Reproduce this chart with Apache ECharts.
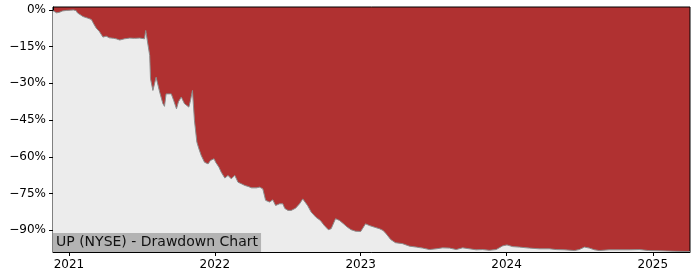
<!DOCTYPE html>
<html>
<head>
<meta charset="utf-8">
<script src="https://cdn.jsdelivr.net/npm/echarts@6/dist/echarts.min.js"></script>
<style>
html,body{margin:0;padding:0;background:#fff;}
#chart{width:700px;height:280px;}
</style>
</head>
<body>
<div id="chart"></div>
<script>
const chartTitle = 'UP (NYSE) - Drawdown Chart';
const dates = [
'2020-11-22','2020-12-01','2020-12-09','2020-12-16','2020-12-26','2021-01-05','2021-01-12','2021-01-19','2021-01-22','2021-01-27',
'2021-02-05','2021-02-16','2021-02-26','2021-03-04','2021-03-10','2021-03-18','2021-03-27','2021-04-04','2021-04-12','2021-04-23',
'2021-04-29','2021-05-08','2021-05-20','2021-06-02','2021-06-14','2021-06-27','2021-07-09','2021-07-12','2021-07-17','2021-07-22',
'2021-07-24','2021-07-30','2021-08-03','2021-08-07','2021-08-11','2021-08-16','2021-08-24','2021-08-28','2021-09-01','2021-09-14',
'2021-09-20','2021-09-27','2021-10-02','2021-10-09','2021-10-17','2021-10-28','2021-11-01','2021-11-06','2021-11-11','2021-11-17',
'2021-11-22','2021-11-28','2021-12-06','2021-12-15','2021-12-21','2021-12-30','2022-01-03','2022-01-11','2022-01-17','2022-01-26',
'2022-02-03','2022-02-11','2022-02-20','2022-02-28','2022-03-08','2022-03-17','2022-03-25','2022-04-03','2022-04-15','2022-04-23',
'2022-05-01','2022-05-08','2022-05-18','2022-05-26','2022-06-02','2022-06-12','2022-06-20','2022-06-25','2022-07-03','2022-07-11',
'2022-07-22','2022-08-01','2022-08-09','2022-08-13','2022-08-21','2022-08-30','2022-09-11','2022-09-22','2022-10-02','2022-10-12',
'2022-10-19','2022-10-30','2022-11-09','2022-11-19','2022-11-29','2022-12-08','2022-12-19','2023-01-01','2023-01-13','2023-01-23',
'2023-02-05','2023-02-17','2023-02-26','2023-03-06','2023-03-17','2023-03-29','2023-04-16','2023-05-03','2023-05-20','2023-06-05',
'2023-06-22','2023-07-09','2023-07-25','2023-08-11','2023-08-28','2023-09-13','2023-09-30','2023-10-17','2023-11-02','2023-11-19',
'2023-12-06','2023-12-22','2024-01-02','2024-01-16','2024-02-02','2024-02-27','2024-03-23','2024-04-17','2024-05-04','2024-05-25',
'2024-06-19','2024-07-01','2024-07-14','2024-07-26','2024-08-08','2024-08-20','2024-09-14','2024-10-09','2024-11-03','2024-11-28',
'2024-12-21','2025-01-18','2025-02-25','2025-04-04'
];
const drawdown = [
-0.3,-1.2,-0.9,-0.4,-0.2,-0.1,0,-0.3,-1.2,-2.0,
-2.7,-3.3,-3.9,-5.7,-7.4,-8.8,-11.1,-10.7,-11.4,-11.6,
-11.8,-12.3,-11.8,-11.5,-11.6,-11.5,-11.8,-8.4,-8.8,-18.6,
-28.1,-32.9,-33.5,-27.5,-27.2,-33.6,-38.3,-39.4,-34.3,-34.3,
-37.0,-40.4,-37.5,-35.6,-38.3,-39.7,-37.0,-32.9,-45.2,-54.0,
-56.7,-59.5,-62.2,-62.9,-61.5,-60.8,-62.2,-64.2,-66.3,-68.7,
-67.6,-69.0,-67.6,-70.4,-71.0,-71.7,-72.1,-72.7,-72.7,-72.4,
-73.1,-77.8,-78.5,-77.6,-79.9,-79.2,-79.2,-81.1,-81.9,-81.9,
-81.0,-79.2,-77.2,-77.2,-79.9,-82.6,-84.7,-86.0,-88.1,-89.8,
-89.4,-85.3,-86.0,-87.4,-88.8,-89.8,-90.4,-90.5,-87.4,-88.1,
-88.8,-89.4,-90.1,-91.5,-93.8,-95.1,-95.5,-96.5,-96.9,-97.3,
-97.9,-97.6,-97.2,-97.3,-97.9,-97.2,-97.6,-98.0,-97.9,-98.2,
-97.9,-96.4,-96.0,-96.7,-96.9,-97.3,-97.6,-97.6,-97.9,-98.0,
-98.3,-97.9,-96.9,-97.3,-98.0,-98.3,-98.0,-98.0,-98.0,-97.9,
-98.3,-98.4,-98.6,-98.7
];
const yTicks = [0,-15,-30,-45,-60,-75,-90];
const xTickLabels = ['2021','2022','2023','2024','2025'];

const toTs = d => Date.UTC(+d.slice(0,4), +d.slice(5,7) - 1, +d.slice(8,10));
const xTickValues = xTickLabels.map(y => toTs(y + '-01-01'));
const seriesData = dates.map((d, i) => [toTs(d), drawdown[i]]);

const chart = echarts.init(document.getElementById('chart'), null, {renderer: 'canvas'});
const font = 'DejaVu Sans';
chart.setOption({
  animation: false,
  backgroundColor: '#ffffff',
  title: {
    text: chartTitle,
    left: 53,
    bottom: 28,
    backgroundColor: '#b3b3b3',
    padding: [2, 3, 2, 3],
    textStyle: {fontFamily: font, fontSize: 14, fontWeight: 'normal', color: '#111', lineHeight: 15},
    z: 10
  },
  grid: {
    left: 53, right: 10, top: 7, bottom: 28,
    show: true,
    backgroundColor: '#b03131',
    borderColor: '#000',
    borderWidth: 1
  },
  xAxis: {
    type: 'value',
    min: toTs(dates[0]),
    max: toTs(dates[dates.length - 1]),
    axisLine: {show: true, onZero: false, lineStyle: {color: '#000', width: 1}},
    axisTick: {show: true, length: 4, lineStyle: {color: '#000'}, customValues: xTickValues},
    axisLabel: {
      customValues: xTickValues,
      formatter: v => String(new Date(v).getUTCFullYear()),
      fontFamily: font, fontSize: 12, color: '#000', margin: 7
    },
    splitLine: {show: false}
  },
  yAxis: {
    type: 'value',
    min: -98.9,
    max: 1.2,
    axisLine: {show: true, lineStyle: {color: '#000', width: 1}},
    axisTick: {show: true, length: 4, lineStyle: {color: '#000'}, customValues: yTicks},
    axisLabel: {
      customValues: yTicks,
      formatter: v => (v < 0 ? '\u2212' + Math.abs(v) : String(v)) + '%',
      fontFamily: font, fontSize: 12, color: '#000', margin: 7
    },
    splitLine: {show: false}
  },
  series: [{
    type: 'line',
    data: seriesData,
    showSymbol: false,
    symbol: 'none',
    lineStyle: {color: '#8c8c8c', width: 1},
    areaStyle: {color: '#ececec', opacity: 1, origin: 'start'},
    z: 2
  }]
});
</script>
</body>
</html>
